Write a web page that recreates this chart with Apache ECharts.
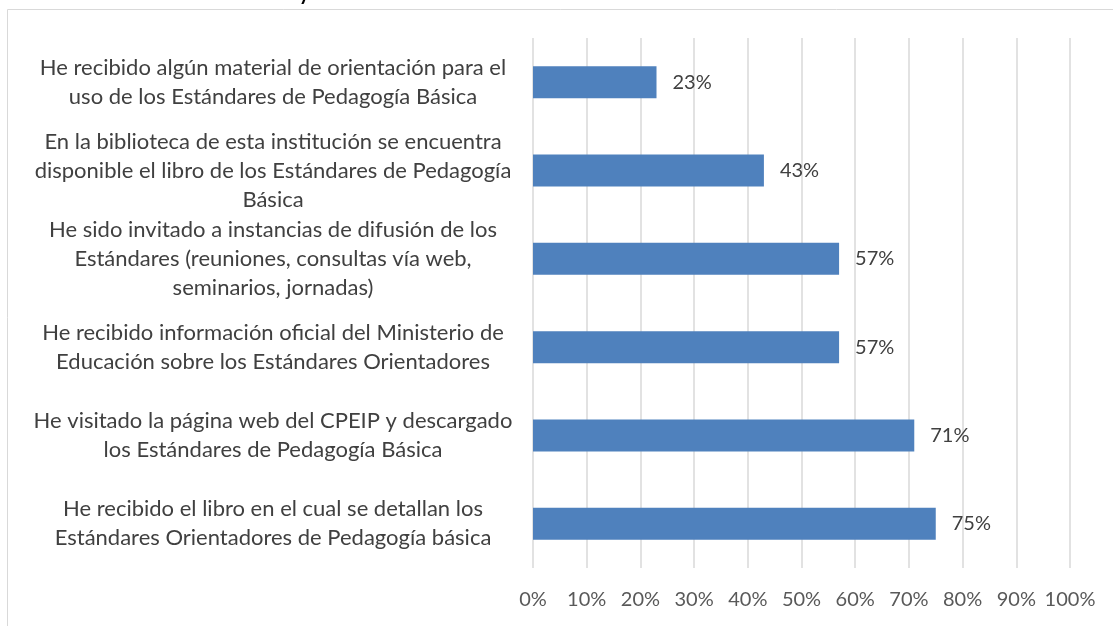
<!DOCTYPE html>
<html>
<head>
<meta charset="utf-8">
<script src="https://cdn.jsdelivr.net/npm/echarts@6/dist/echarts.min.js"></script>
<style>
  html, body { margin: 0; padding: 0; background: #fff; }
  #chart { width: 1113px; height: 626px; }
</style>
</head>
<body>
<div id="chart"></div>
<script>
// top-to-bottom order as in the picture
const categories = [
  'He recibido algún material de orientación para el\nuso de los Estándares de Pedagogía Básica',
  'En la biblioteca de esta institución se encuentra\ndisponible el libro de los Estándares de Pedagogía\nBásica',
  'He sido invitado a instancias de difusión de los\nEstándares (reuniones, consultas vía web,\nseminarios, jornadas)',
  'He recibido información oficial del Ministerio de\nEducación sobre los Estándares Orientadores',
  'He visitado la página web del CPEIP y descargado\nlos Estándares de Pedagogía Básica',
  'He recibido el libro en el cual se detallan los\nEstándares Orientadores de Pedagogía básica'
]
const values = [0.23, 0.43, 0.57, 0.57, 0.71, 0.75]
const xTicks = [0, 0.1, 0.2, 0.3, 0.4, 0.5, 0.6, 0.7, 0.8, 0.9, 1]

const font = 'Lato, "Open Sans", sans-serif'
const pct = v => Math.round(v * 100) + '%'

const chart = echarts.init(document.getElementById('chart'), null, { renderer: 'canvas' })
chart.setOption({
  animation: false,
  textStyle: { fontFamily: font },
  graphic: [
    // chart area border (cut off at right and bottom)
    { type: 'line', shape: { x1: 7.5, y1: 9.5, x2: 1113, y2: 9.5 }, style: { stroke: '#d9d9d9', lineWidth: 1 } },
    { type: 'line', shape: { x1: 7.5, y1: 9.5, x2: 7.5, y2: 626 }, style: { stroke: '#d9d9d9', lineWidth: 1 } },
    // cropped title fragment
    { type: 'text', left: 299, top: -16, style: { text: 'y', fontSize: 20, fontWeight: 'bold', fill: '#000', fontFamily: font } }
  ],
  grid: { left: 533, right: 43, top: 38, bottom: 58 },
  xAxis: {
    type: 'value',
    min: xTicks[0],
    max: xTicks[xTicks.length - 1],
    interval: 0.1,
    axisLine: { show: false },
    axisTick: { show: false },
    splitLine: { lineStyle: { color: '#d9d9d9', width: 1.5 } },
    axisLabel: { color: '#595959', fontSize: 20, margin: 22, formatter: pct }
  },
  yAxis: {
    type: 'category',
    data: categories,
    inverse: true,
    axisLine: { show: false },
    axisTick: { show: false },
    axisLabel: { color: '#404040', fontSize: 22, lineHeight: 29, align: 'center', margin: 260 }
  },
  series: [{
    type: 'bar',
    data: values,
    barWidth: 32,
    itemStyle: { color: '#4f81bd' },
    label: {
      show: true,
      position: 'right',
      distance: 16,
      color: '#404040',
      fontSize: 20,
      formatter: p => pct(p.value)
    }
  }]
})
</script>
</body>
</html>
